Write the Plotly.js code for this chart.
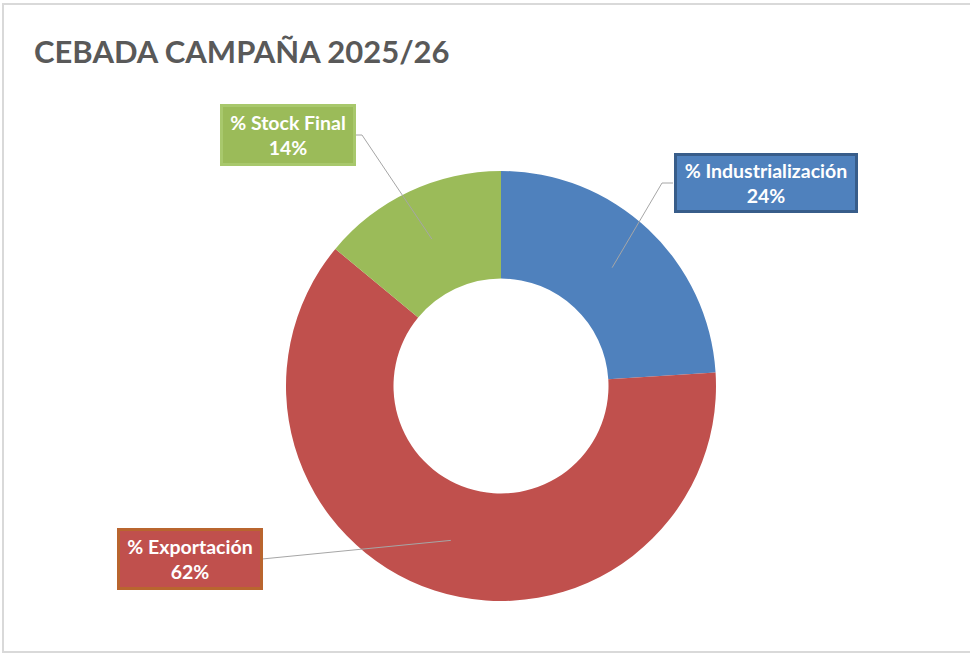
<!DOCTYPE html>
<html>
<head>
<meta charset="utf-8">
<script src="https://cdn.plot.ly/plotly-3.0.1.min.js"></script>
<style>html,body{margin:0;padding:0;background:#fff;}#chart{width:970px;height:655px;}</style>
</head>
<body>
<div id="chart"></div>
<script>
// Data
const labels = ["% Industrialización", "% Exportación", "% Stock Final"];
const values = [24, 62, 14];
const colors = ["#4F81BD", "#C0504D", "#9BBB59"];
const chartTitle = "CEBADA CAMPAÑA 2025/26";

// Layout constants (pixels)
const W = 970, H = 655;
const cx = 501, cy = 386, R = 215;
const px = x => x / W;
const py = y => 1 - y / H;

// Label boxes (center, size, border colour) and leader-line elbows
const boxes = [
  {cx: 766, cy: 183, w: 178, h: 54, border: "#385D8A", elbow: [[662, 183], [673, 183]]},
  {cx: 189.5, cy: 559, w: 140, h: 56, border: "#B9652F", elbow: [[262, 559]]},
  {cx: 288, cy: 135, w: 130, h: 56, border: "#A8C86C", elbow: [[362, 135], [355, 135]]}
];

// Compute slice mid-angle anchors from the data
const total = values.reduce((a, b) => a + b, 0);
let acc = 0;
const anchors = values.map(v => {
  const mid = (acc + v / 2) / total * 2 * Math.PI;
  acc += v;
  const r = 0.755 * R;
  return [cx + r * Math.sin(mid), cy - r * Math.cos(mid)];
});

const annotations = [];
const shapes = [{
  type: "rect", xref: "paper", yref: "paper",
  x0: px(3), x1: px(980), y0: py(652), y1: py(4),
  line: {color: "#D9D9D9", width: 2}, fillcolor: "rgba(0,0,0,0)", layer: "below"
}];

labels.forEach((lab, i) => {
  const b = boxes[i];
  const pct = Math.round(values[i] / total * 100);
  annotations.push({
    xref: "paper", yref: "paper", x: px(b.cx), y: py(b.cy),
    xanchor: "center", yanchor: "middle", showarrow: false,
    text: "<b>" + lab + "</b><br><b>" + pct + "%</b>",
    font: {family: "Lato, 'Open Sans', sans-serif", size: 19.5, color: "#FFFFFF"},
    align: "center", bgcolor: colors[i], bordercolor: b.border,
    borderwidth: 3, borderpad: 0, width: b.w, height: b.h
  });
  const pts = [anchors[i]].concat(b.elbow);
  let d = "M " + px(pts[0][0]) + "," + py(pts[0][1]);
  for (let k = 1; k < pts.length; k++) d += " L " + px(pts[k][0]) + "," + py(pts[k][1]);
  shapes.push({type: "path", xref: "paper", yref: "paper", path: d,
    line: {color: "#A6A6A6", width: 1}, layer: "above"});
});

const trace = {
  type: "pie", labels: labels, values: values, hole: 0.5,
  sort: false, direction: "clockwise", rotation: 0,
  marker: {colors: colors, line: {width: 0}},
  textinfo: "none", hoverinfo: "label+percent", showlegend: false,
  domain: {x: [px(cx - R), px(cx + R)], y: [py(cy + R), py(cy - R)]}
};

const layout = {
  width: W, height: H,
  margin: {l: 0, r: 0, t: 0, b: 0},
  paper_bgcolor: "#FFFFFF",
  showlegend: false,
  title: {
    text: "<b>" + chartTitle + "</b>",
    x: px(34), xanchor: "left", xref: "paper",
    y: py(52), yanchor: "middle", yref: "paper",
    font: {family: "Lato, 'Open Sans', sans-serif", size: 31, color: "#595959"}
  },
  annotations: annotations,
  shapes: shapes
};

Plotly.newPlot("chart", [trace], layout, {displayModeBar: false, staticPlot: true});
</script>
</body>
</html>
